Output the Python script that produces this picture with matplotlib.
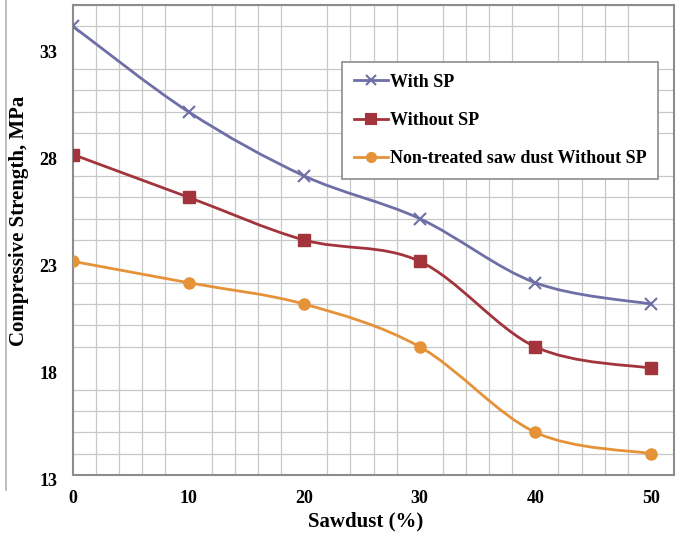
import matplotlib
matplotlib.use("Agg")
import matplotlib.pyplot as plt
from matplotlib.path import Path
from matplotlib.patches import PathPatch
from matplotlib.lines import Line2D
from matplotlib.transforms import ScaledTranslation
import numpy as np

sawdust = [0, 10, 20, 30, 40, 50]
with_sp = [34, 30, 27, 25, 22, 21]
without_sp = [28, 26, 24, 23, 19, 18]
non_treated = [23, 22, 21, 19, 15, 14]
labels = ["With SP", "Without SP", "Non-treated saw dust Without SP"]
colors = ["#6E6FA6", "#A3343B", "#E59238"]
markers = ["x", "s", "o"]
yticks = [13, 18, 23, 28, 33]
xticks = [0, 10, 20, 30, 40, 50]

plt.rcParams['font.family'] = ['Liberation Serif', 'DejaVu Serif']

fig = plt.figure(figsize=(6.83, 5.35), dpi=100)
ax = fig.add_axes([73/683, 60/535, 601/683, 470/535])
ax.set_xlim(0, 52)
ax.set_ylim(13, 35)

ax.set_xticks(np.arange(0, 53, 2), minor=True)
ax.set_yticks(np.arange(13, 36, 1), minor=True)
ax.grid(which='minor', color='#C8C8C8', linewidth=0.9)
ax.set_axisbelow(True)
ax.set_xticks(xticks)
ax.set_yticks(yticks)
ax.tick_params(which='both', length=0)
ax.tick_params(axis='x', pad=11)
ax.tick_params(axis='y', pad=11)
offset = ScaledTranslation(0, -4/100, fig.dpi_scale_trans)
for lab in ax.get_yticklabels():
    lab.set_transform(lab.get_transform() + offset)
for lab in ax.get_xticklabels() + ax.get_yticklabels():
    lab.set_fontweight('bold')
    lab.set_fontsize(13)
for s in ax.spines.values():
    s.set_color('#8C8C8C')
    s.set_linewidth(1.5)


def smooth_path(xs, ys):
    pts = np.column_stack([xs, ys]).astype(float)
    n = len(pts)
    verts = [pts[0]]
    codes = [Path.MOVETO]
    for i in range(n - 1):
        p0 = pts[i - 1] if i > 0 else pts[i]
        p1 = pts[i]
        p2 = pts[i + 1]
        p3 = pts[i + 2] if i + 2 < n else pts[i + 1]
        c1 = p1 + (p2 - p0) / 6.0
        c2 = p2 - (p3 - p1) / 6.0
        verts += [c1, c2, p2]
        codes += [Path.CURVE4] * 3
    return Path(verts, codes)


series = [with_sp, without_sp, non_treated]
handles = []
for ys, c, m, lab in zip(series, colors, markers, labels):
    ax.add_patch(PathPatch(smooth_path(sawdust, ys), facecolor='none',
                           edgecolor=c, linewidth=2.0, zorder=3))
    if m == 'x':
        ax.plot(sawdust, ys, linestyle='none', marker='x', markersize=8,
                markeredgewidth=1.5, color=c, zorder=4)
    else:
        ax.plot(sawdust, ys, linestyle='none', marker=m, markersize=8,
                color=c, zorder=4)
    handles.append(Line2D([], [], color=c, linewidth=2.0, marker=m,
                          markersize=6.5, markeredgewidth=1.5))

leg = ax.legend(handles, labels, loc='upper left',
                bbox_to_anchor=((342 - 73) / 601, (535 - 62 - 60) / 470),
                frameon=True, fancybox=False, framealpha=1,
                edgecolor='#8C8C8C', handlelength=1.9, handletextpad=0.1,
                labelspacing=1.17, borderpad=0.65, borderaxespad=0,
                prop={'weight': 'bold', 'size': 13})
leg.get_frame().set_linewidth(1.2)

ax.set_xlabel("Sawdust (%)", fontsize=15, fontweight='bold',
              va='center', ha='center')
ax.set_ylabel("Compressive Strength, MPa", fontsize=15, fontweight='bold',
              va='center', ha='center')
ax.xaxis.set_label_coords((366 - 73) / 601, -(521 - 475) / 470)
ax.yaxis.set_label_coords(-(73 - 19) / 601, (475 - 221) / 470)

fig.add_artist(Line2D([6/683, 6/683], [45/535, 1], color='#B0B0B0',
                      linewidth=1.2, transform=fig.transFigure))

fig.savefig("out.png", dpi=100)
